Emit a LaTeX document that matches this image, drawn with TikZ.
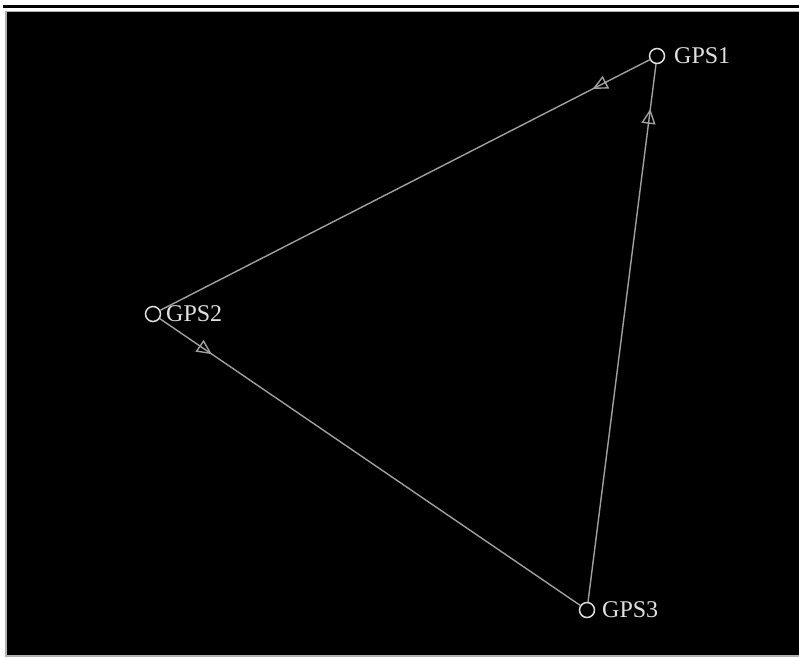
\documentclass[tikz,border=0pt]{standalone}
\usepackage{fontspec}
\setmainfont{Liberation Serif}
\usetikzlibrary{arrows.meta,decorations.markings}
\definecolor{edgegray}{HTML}{A0A0A0}
\definecolor{nodegray}{HTML}{E0E0E0}
\tikzset{
  gpsnode/.style={circle,draw=nodegray,line width=1.5pt,minimum size=15pt,inner sep=0pt},
  lbl/.style={text=nodegray,font=\fontsize{24}{24}\selectfont,inner sep=0pt,anchor=west},
  edge/.style={draw=edgegray,line width=1.4pt},
  fwdmark/.style={postaction={decorate},decoration={markings,mark=at position -#1 with {\arrow[edgegray]{Triangle[open,length=15pt,width=14pt,line width=1.4pt]}}}},
  revmark/.style={postaction={decorate},decoration={markings,mark=at position -#1 with {\arrowreversed[edgegray]{Triangle[open,length=15pt,width=14pt,line width=1.4pt]}}}}
}
\begin{document}
\begin{tikzpicture}[x=1pt,y=-1pt]
\useasboundingbox (0,0) rectangle (799,657);
\fill[white] (0,0) rectangle (799,657);
% window frame
\fill[black] (3,4.5) rectangle (799,8);
\fill[gray!60] (5,10.5) rectangle (799,12);
\fill[gray!60] (5,10.5) rectangle (7,657);
\fill[black] (7,12) rectangle (799,655);
\fill[gray!60] (7,655) rectangle (799,657);
% nodes
\node[gpsnode] (g1) at (657,56) {};
\node[gpsnode] (g2) at (153,314) {};
\node[gpsnode] (g3) at (587,610) {};
\node[lbl] (t1) at (674,56) {GPS1};
\node[lbl] (t2) at (166,314) {GPS2};
\node[lbl] (t3) at (602,610) {GPS3};
% edges
\draw[edge,revmark=64pt] (g2) -- (g1);
\draw[edge,fwdmark=45pt] (g3) -- (g1);
\draw[edge,revmark=63pt] (g3) -- (g2);
\end{tikzpicture}
\end{document}
